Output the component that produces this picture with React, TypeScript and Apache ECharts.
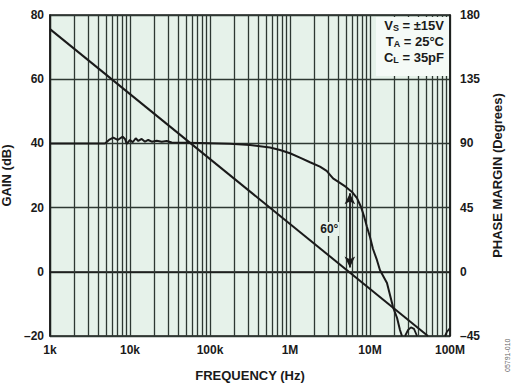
import React, { useEffect, useRef } from "react";
import * as echarts from "echarts";

// Frequency decades (Hz) and their tick labels
const decades = [1e3, 1e4, 1e5, 1e6, 1e7, 1e8];
const decadeLabels = ["1k", "10k", "100k", "1M", "10M", "100M"];
const minorMultipliers = [2, 3, 4, 5, 6, 7, 8, 9];

// Open-loop gain (dB) vs frequency (Hz): straight –20 dB/decade line
const gainData: [number, number][] = [
  [1000, 75.6],
  [53000000, -20],
];

// Phase margin (degrees) vs frequency (Hz)
const phaseData: [number, number][] = [
  [1000, 90], [2000, 90], [3500, 90], [4870, 90], [5460, 92.4], [6180, 94],
  [7010, 92.4], [8110, 94.7], [8660, 93.1], [9100, 89.6], [10000, 92.4],
  [10800, 90.8], [11800, 93.6], [12700, 91.7], [14000, 93.1], [15400, 91.2],
  [16900, 92.4], [18700, 91.2], [21600, 91.9], [24900, 91.2], [28800, 91.7],
  [33200, 90.6], [75000, 90.2], [178000, 89.8], [316000, 88.9],
  [562000, 87.1], [750000, 85.4], [1000000, 83.1], [1330000, 80],
  [1780000, 76.8], [2370000, 73.7], [2870000, 70.7], [3450000, 65.5],
  [4300000, 62], [5000000, 59.5], [5960000, 56], [6880000, 51.7],
  [7720000, 45.4], [8410000, 39.1], [9170000, 31.4], [10000000, 24.4],
  [10900000, 16], [12200000, 8.3], [13300000, 1.3], [16300000, -7.8],
  [19400000, -24.7], [21800000, -32.4], [23700000, -40.8], [25100000, -45],
];
const phaseBump: [number, number][] = [
  [27400000, -45], [29900000, -40.8], [32500000, -39], [35500000, -40],
  [38700000, -45],
];
const phaseEdge: [number, number][] = [
  [86600000, -45], [91700000, -42], [100000000, -39.5],
];

// Left (gain) and right (phase) axis ranges
const gainRange = { min: -20, max: 80, step: 20 };
const phaseRange = { min: -45, max: 180, step: 45 };

// Phase margin annotation
const pmFreq = 5600000;
const pmTop = 55;
const pmBottom = 3;
const pmLabel = "60°";
const pmLabelPos: [number, number] = [3100000, 30];

const conditions = [
  { main: "V", sub: "S", rest: " = ±15V" },
  { main: "T", sub: "A", rest: " = 25°C" },
  { main: "C", sub: "L", rest: " = 35pF" },
];

const FONT = "Liberation Sans, Arial, Helvetica, sans-serif";
const INK = "#1a1a1a";
const GRIDC = "#2e3833";
const BG = "#e6f2ea";

const fmtNeg = (v: number) => (v < 0 ? "\u2013" + Math.abs(v) : String(v));

export default function App() {
  const ref = useRef<HTMLDivElement>(null);
  useEffect(() => {
    if (!ref.current) return;
    const chart = echarts.init(ref.current, null, { renderer: "svg" });

    const minorLines: { xAxis: number }[] = [];
    decades.slice(0, -1).forEach((d) =>
      minorMultipliers.forEach((m) => minorLines.push({ xAxis: d * m }))
    );

    const condTexts = conditions.map((c, i) => ({
      type: "text",
      right: 513 - 444,
      top: 19 + i * 16,
      z: 101,
      style: {
        text: `{b|${c.main}}{s|${c.sub}}{b|${c.rest}}`,
        font: `bold 13px ${FONT}`,
        fill: INK,
        rich: {
          b: { fontFamily: FONT, fontWeight: "bold", fontSize: 13, fill: INK, lineHeight: 16, verticalAlign: "bottom" },
          s: { fontFamily: FONT, fontWeight: "bold", fontSize: 9, fill: INK, lineHeight: 16, verticalAlign: "bottom" },
        },
      },
    }));

    const option: any = {
      animation: false,
      textStyle: { fontFamily: FONT },
      grid: {
        left: 50,
        right: 63,
        top: 15,
        bottom: 48,
        containLabel: false,
        outerBoundsMode: "none",
        show: true,
        backgroundColor: BG,
        borderColor: INK,
        borderWidth: 1.5,
      },
      xAxis: {
        type: "log",
        logBase: 10,
        min: decades[0],
        max: decades[decades.length - 1],
        name: "FREQUENCY (Hz)",
        nameLocation: "middle",
        nameGap: 33,
        nameTextStyle: { fontFamily: FONT, fontWeight: "bold", fontSize: 13, color: INK },
        axisLine: { show: true, lineStyle: { color: INK, width: 1.5 } },
        axisTick: { show: false },
        axisLabel: {
          margin: 8,
          fontFamily: FONT,
          fontWeight: "bold",
          fontSize: 12,
          color: INK,
          formatter: (v: number) => {
            const i = decades.findIndex((d) => Math.abs(Math.log10(d) - Math.log10(v)) < 1e-6);
            return i >= 0 ? decadeLabels[i] : "";
          },
        },
        splitLine: { show: true, lineStyle: { color: GRIDC, width: 1.3 } },
      },
      yAxis: [
        {
          type: "value",
          min: gainRange.min,
          max: gainRange.max,
          interval: gainRange.step,
          name: "GAIN (dB)",
          nameLocation: "middle",
          nameGap: 30,
          nameTextStyle: { fontFamily: FONT, fontWeight: "bold", fontSize: 13, color: INK },
          axisLine: { show: true, lineStyle: { color: INK, width: 1.5 } },
          axisTick: { show: false },
          axisLabel: { margin: 6, fontFamily: FONT, fontWeight: "bold", fontSize: 12, color: INK, formatter: fmtNeg },
          splitLine: { show: true, lineStyle: { color: GRIDC, width: 1.3 } },
        },
        {
          type: "value",
          min: phaseRange.min,
          max: phaseRange.max,
          interval: phaseRange.step,
          name: "PHASE MARGIN (Degrees)",
          nameLocation: "middle",
          nameGap: 36,
          nameRotate: 90,
          nameTextStyle: { fontFamily: FONT, fontWeight: "bold", fontSize: 13, color: INK },
          axisLine: { show: true, lineStyle: { color: INK, width: 1.5 } },
          axisTick: { show: false },
          axisLabel: { margin: 10, fontFamily: FONT, fontWeight: "bold", fontSize: 12, color: INK, formatter: fmtNeg },
          splitLine: { show: false },
        },
      ],
      series: [
        {
          name: "grid",
          type: "line",
          data: [[decades[0], gainRange.min]],
          symbol: "none",
          lineStyle: { opacity: 0 },
          silent: true,
          z: 1,
          markLine: {
            silent: true,
            symbol: "none",
            label: { show: false },
            lineStyle: { color: GRIDC, width: 1.3, type: "solid" },
            data: minorLines,
            z: 1,
          },
        },
        {
          name: "gain",
          type: "line",
          data: gainData,
          symbol: "none",
          lineStyle: { color: INK, width: 2 },
          z: 5,
        },
        {
          name: "phase",
          type: "line",
          yAxisIndex: 1,
          data: phaseData,
          symbol: "none",
          lineStyle: { color: INK, width: 2 },
          z: 5,
          markLine: {
            silent: true,
            symbol: ["arrow", "arrow"],
            symbolSize: [8, 11],
            label: { show: false },
            lineStyle: { color: INK, width: 1.8, type: "solid" },
            data: [[{ coord: [pmFreq, pmTop] }, { coord: [pmFreq, pmBottom] }]],
          },
          markPoint: {
            silent: true,
            symbol: "circle",
            symbolSize: 0,
            data: [
              {
                coord: pmLabelPos,
                label: {
                  show: true,
                  position: "inside",
                  formatter: pmLabel,
                  fontFamily: FONT,
                  fontWeight: "bold",
                  fontSize: 12,
                  color: INK,
                  backgroundColor: BG,
                  padding: [1, 1, 1, 1],
                },
              },
            ],
          },
        },
        {
          name: "phaseBump",
          type: "line",
          yAxisIndex: 1,
          data: phaseBump,
          symbol: "none",
          lineStyle: { color: INK, width: 1.8 },
          z: 5,
        },
        {
          name: "phaseEdge",
          type: "line",
          yAxisIndex: 1,
          data: phaseEdge,
          symbol: "none",
          lineStyle: { color: INK, width: 1.8 },
          z: 5,
        },
      ],
      graphic: [
        {
          type: "rect",
          shape: { x: 376, y: 17, width: 73, height: 59 },
          style: { fill: "#f5faf7" },
          z: 100,
        },
        ...condTexts,
        {
          type: "text",
          x: 504,
          y: 372,
          rotation: Math.PI / 2,
          style: { text: "05791-010", font: `7px ${FONT}`, fill: "#666" },
          z: 100,
        },
      ],
    };
    chart.setOption(option);
    return () => chart.dispose();
  }, []);
  return (
    <div
      ref={ref}
      style={{ position: "fixed", left: 0, top: 0, width: 513, height: 384, background: "#fff" }}
    />
  );
}
